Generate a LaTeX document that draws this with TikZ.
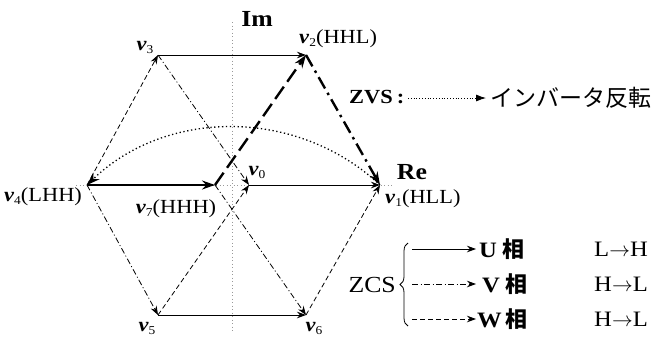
\documentclass[tikz,border=0pt]{standalone}
\usepackage{fontspec}
\setmainfont[FakeStretch=1.12]{Liberation Serif}
\newfontfamily\jpf{Noto Sans CJK JP}
\usetikzlibrary{arrows.meta,decorations.pathreplacing}
\newcommand{\vlab}[1]{\textbf{\textit{v}}\raisebox{-3pt}{\fontsize{12}{12}\selectfont #1}}
\begin{document}
\begin{tikzpicture}[x=1pt,y=-1pt,
  thinln/.style={line width=0.8pt},
  thickln/.style={line width=2.4pt},
  tarr/.style={-{Stealth[length=9pt,width=6.5pt]}},
  Tarr/.style={-{Stealth[length=13pt,width=9pt]}},
  phU/.style={solid},
  phV/.style={dash pattern=on 6pt off 2.5pt on 1pt off 2.5pt},
  phW/.style={dash pattern=on 5pt off 3pt},
  phVT/.style={dash pattern=on 13pt off 5pt on 2.5pt off 5pt},
  phWT/.style={dash pattern=on 15pt off 6pt},
  zvsln/.style={line width=1.3pt, dash pattern=on 1.3pt off 2.6pt},
  axisln/.style={black!40, line width=0.5pt, dash pattern=on 1pt off 2.5pt},
  lbl/.style={inner sep=0pt, font=\fontsize{20}{20}\selectfont},
  big/.style={inner sep=0pt, font=\fontsize{23}{23}\selectfont\bfseries},
  legtxt/.style={inner sep=0pt, font=\fontsize{22}{22}\selectfont},
]
\useasboundingbox (0,0) rectangle (653,338);
% vertices
\coordinate (v4) at (87,185);
\coordinate (v1) at (380,185);
\coordinate (v3) at (158,55);
\coordinate (v2) at (306,55);
\coordinate (v5) at (158,315);
\coordinate (v6) at (306,315);
\coordinate (v7) at (215,185);
\coordinate (v0) at (249,185);
% axes
\coordinate (imtop) at (232,22);
\coordinate (imbot) at (232,333);
\coordinate (reL) at (76,185);
\coordinate (reR) at (392,185);
\draw[axisln] (imtop) -- (imbot);
\draw[axisln] (reL) -- (reR);
% thin edges
\draw[thinln,phW,tarr] (v4) -- (v3);
\draw[thinln,phU,tarr] (v3) -- (v2);
\draw[thinln,phV,tarr] (v4) -- (v5);
\draw[thinln,phU,tarr] (v5) -- (v6);
\draw[thinln,phW,tarr] (v6) -- (v1);
\draw[thinln,phV,tarr] (v3) -- (v0);
\draw[thinln,phW,tarr] (v5) -- (v0);
\draw[thinln,phU,tarr] (v0) -- (v1);
\draw[thinln,phV,tarr] (v7) -- (v6);
% thick path
\draw[thickln,phU,Tarr] (v4) -- (v7);
\draw[thickln,phWT,Tarr] (v7) -- (v2);
\draw[thickln,phVT,Tarr] (v2) -- (v1);
\draw[zvsln,Tarr] (v1) .. controls (298,108) and (167,108) .. (v4);
% labels
\node[big] (lIm) at (257,19) {Im};
\node[big] (lRe) at (412,172) {Re};
\node[lbl] (l3) at (145,47) {\vlab{3}};
\node[lbl,anchor=west] (l2) at (299,39) {\vlab{2}(HHL)};
\node[lbl] (l0) at (257,172) {\vlab{0}};
\node[lbl] (l7) at (176,209) {\vlab{7}(HHH)};
\node[lbl] (l4) at (43,197) {\vlab{4}(LHH)};
\node[lbl,anchor=west] (l1) at (385,199) {\vlab{1}(HLL)};
\node[lbl] (l5) at (147,328) {\vlab{5}};
\node[lbl] (l6) at (314,328) {\vlab{6}};
% ZVS legend
\node[inner sep=0pt,anchor=west,font=\fontsize{20}{20}\selectfont\bfseries] (zvs) at (349,97) {ZVS\hspace{4pt}:};
\coordinate (zvsa) at (408,98);
\coordinate (zvsb) at (486,98);
\draw[line width=0.8pt,dash pattern=on 1pt off 1.8pt,-{Latex[length=10pt,width=7pt]}] (zvsa) -- (zvsb);
\node[inner sep=0pt,anchor=west,font=\fontsize{23}{23}\selectfont\jpf] (inv) at (490,98) {インバータ反転};
% ZCS legend
\node[inner sep=0pt,anchor=east,font=\fontsize{23}{23}\selectfont] (zcs) at (396,285) {ZCS};
\coordinate (brb) at (408,326);
\coordinate (brt) at (408,243);
\draw[line width=0.8pt,decorate,decoration={brace,amplitude=8pt}] (brb) -- (brt);
\coordinate (ua) at (412,249); \coordinate (ub) at (476,249);
\coordinate (va) at (412,284); \coordinate (vb) at (476,284);
\coordinate (wa) at (412,319); \coordinate (wb) at (476,319);
\draw[thinln,phU,tarr] (ua) -- (ub);
\draw[thinln,phV,tarr] (va) -- (vb);
\draw[thinln,phW,tarr] (wa) -- (wb);
\node[legtxt,anchor=west] (uph) at (479,249) {\textbf{U}\hspace{5pt}{\jpf\bfseries 相}};
\node[legtxt,anchor=west] (vph) at (482,284) {\textbf{V}\hspace{5pt}{\jpf\bfseries 相}};
\node[legtxt,anchor=west] (wph) at (477,319) {\textbf{W}\hspace{4pt}{\jpf\bfseries 相}};
\node[legtxt,anchor=east] (ut) at (648,249) {L$\to$H};
\node[legtxt,anchor=east] (vt) at (648,284) {H$\to$L};
\node[legtxt,anchor=east] (wt) at (648,319) {H$\to$L};
\end{tikzpicture}
\end{document}
